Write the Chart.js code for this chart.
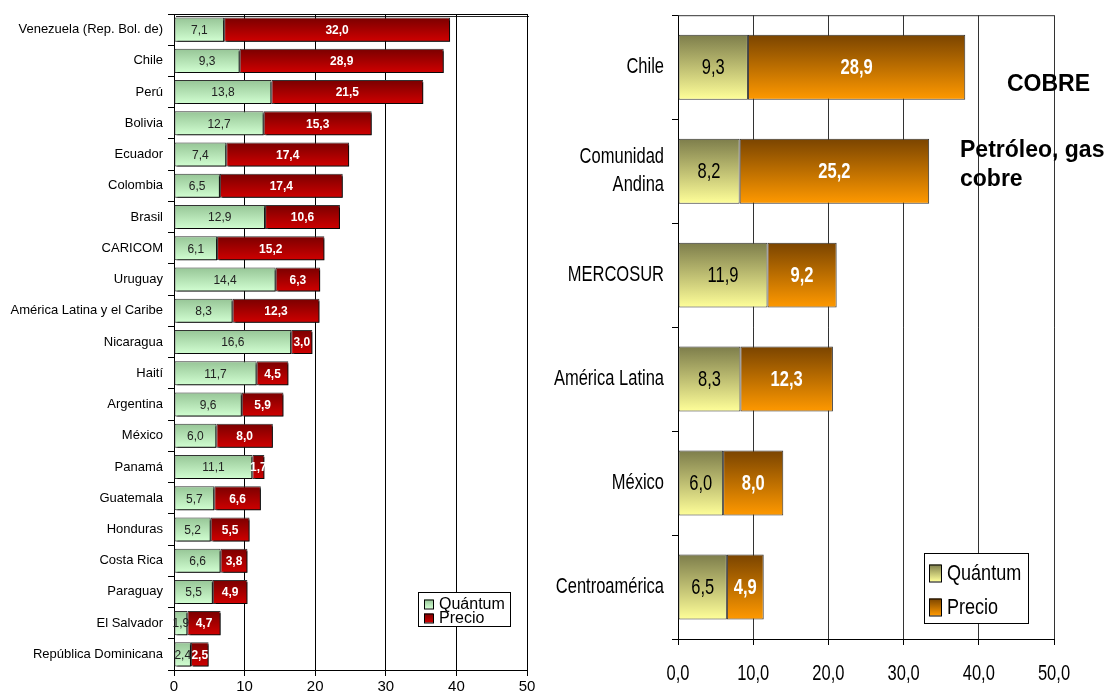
<!DOCTYPE html>
<html>
<head>
<meta charset="utf-8">
<script src="https://cdn.jsdelivr.net/npm/chart.js@4.4.1/dist/chart.umd.min.js"></script>
<style>
body { margin: 0; background: #fff; width: 1107px; height: 696px; overflow: hidden; position: relative; }
#wl { position: absolute; left: 0; top: 0; width: 550px; height: 696px; }
#wr { position: absolute; left: 550px; top: 0; width: 557px; height: 696px; }
</style>
</head>
<body>
<div id="wl"><canvas id="izq"></canvas></div>
<div id="wr"><canvas id="der"></canvas></div>
<script>
// datos
var paises = ["Venezuela (Rep. Bol. de)", "Chile", "Perú", "Bolivia", "Ecuador", "Colombia", "Brasil", "CARICOM",
  "Uruguay", "América Latina y el Caribe", "Nicaragua", "Haití", "Argentina", "México", "Panamá", "Guatemala",
  "Honduras", "Costa Rica", "Paraguay", "El Salvador", "República Dominicana"];
var quantumPaises = [7.1, 9.3, 13.8, 12.7, 7.4, 6.5, 12.9, 6.1, 14.4, 8.3, 16.6, 11.7, 9.6, 6.0, 11.1, 5.7, 5.2, 6.6, 5.5, 1.9, 2.4];
var precioPaises = [32.0, 28.9, 21.5, 15.3, 17.4, 17.4, 10.6, 15.2, 6.3, 12.3, 3.0, 4.5, 5.9, 8.0, 1.7, 6.6, 5.5, 3.8, 4.9, 4.7, 2.5];

var grupos = ["Chile", ["Comunidad", "Andina"], "MERCOSUR", "América Latina", "México", "Centroamérica"];
var quantumGrupos = [9.3, 8.2, 11.9, 8.3, 6.0, 6.5];
var precioGrupos = [28.9, 25.2, 9.2, 12.3, 8.0, 4.9];

var ticksX = [0, 10, 20, 30, 40, 50];

var arial = "'Liberation Sans', Arial, sans-serif";

function coma(v) { return v.toFixed(1).replace('.', ','); }

// texto estrechado en horizontal (imita Arial Narrow)
function texto(ctx, s, x, y, align, sx) {
  ctx.save();
  ctx.translate(x, y);
  ctx.scale(sx, 1);
  ctx.textAlign = align;
  ctx.textBaseline = 'middle';
  ctx.fillText(s, 0, 0);
  ctx.restore();
}

// degradado vertical por barra
function gradiente(arriba, abajo, frac) {
  return function(c) {
    var chart = c.chart;
    var y = chart.scales.y;
    if (!chart.chartArea || !y || c.dataIndex === undefined) return abajo;
    var n = chart.data.labels.length;
    var h = (y.bottom - y.top) / n * frac / 2;
    var m = y.getPixelForValue(c.dataIndex);
    var g = chart.ctx.createLinearGradient(0, m - h, 0, m + h);
    g.addColorStop(0, arriba);
    g.addColorStop(1, abajo);
    return g;
  };
}

var sombra = {
  id: 'sombra',
  beforeDatasetsDraw: function(chart, args, o) {
    if (!o.on) return;
    var ctx = chart.ctx;
    ctx.save();
    ctx.shadowColor = 'rgba(0,0,0,0.85)';
    ctx.shadowOffsetX = 2;
    ctx.shadowOffsetY = 2;
    ctx.shadowBlur = 0;
  },
  afterDatasetsDraw: function(chart, args, o) {
    if (o.on) chart.ctx.restore();
  }
};

var etiquetas = {
  id: 'etiquetas',
  afterDatasetsDraw: function(chart, args, o) {
    var ctx = chart.ctx;
    chart.data.datasets.forEach(function(ds, i) {
      chart.getDatasetMeta(i).data.forEach(function(bar, j) {
        var p = bar.getProps(['x', 'y', 'base'], true);
        ctx.save();
        ctx.font = o.fonts[i];
        ctx.fillStyle = o.colors[i];
        texto(ctx, coma(ds.data[j]), (p.x + p.base) / 2, p.y + 1, 'center', o.sx);
        ctx.restore();
      });
    });
  }
};

var marco = {
  id: 'marco',
  beforeDatasetsDraw: function(chart, args, o) {
    var a = chart.chartArea, ctx = chart.ctx;
    ctx.save();
    ctx.strokeStyle = o.color;
    ctx.lineWidth = 1;
    ctx.beginPath();
    ctx.moveTo(a.left, a.top + 0.5);
    ctx.lineTo(a.right, a.top + 0.5);
    ctx.stroke();
    ctx.restore();
  }
};

var leyenda = {
  id: 'leyenda',
  afterDraw: function(chart, args, o) {
    var ctx = chart.ctx;
    ctx.save();
    ctx.fillStyle = '#fff';
    ctx.fillRect(o.x, o.y, o.w, o.h);
    ctx.strokeStyle = '#000';
    ctx.lineWidth = 1;
    ctx.strokeRect(o.x + 0.5, o.y + 0.5, o.w, o.h);
    chart.data.datasets.forEach(function(ds, i) {
      var cy = o.y + o.first + i * o.step;
      var g = ctx.createLinearGradient(0, cy - o.sh / 2, 0, cy + o.sh / 2);
      g.addColorStop(0, o.swatch[i][0]);
      g.addColorStop(1, o.swatch[i][1]);
      ctx.fillStyle = g;
      ctx.fillRect(o.x + o.sx, cy - o.sh / 2, o.sw, o.sh);
      ctx.strokeStyle = '#000';
      ctx.strokeRect(o.x + o.sx + 0.5, cy - o.sh / 2 + 0.5, o.sw, o.sh);
      ctx.fillStyle = '#000';
      ctx.font = o.font;
      texto(ctx, ds.label, o.x + o.tx, cy + 1, 'left', o.scale);
    });
    ctx.restore();
  }
};

// rótulos de ejes dibujados a mano (solo gráfico derecho)
var rotulos = {
  id: 'rotulos',
  afterDraw: function(chart, args, o) {
    if (!o.on) return;
    var ctx = chart.ctx, a = chart.chartArea;
    var sy = chart.scales.y, sx = chart.scales.x;
    ctx.save();
    ctx.fillStyle = '#000';
    ctx.font = o.font;
    chart.data.labels.forEach(function(l, i) {
      var lines = Array.isArray(l) ? l : [l];
      var c = sy.getPixelForValue(i);
      lines.forEach(function(t, k) {
        var y = c + (k - (lines.length - 1) / 2) * o.lh;
        texto(ctx, t, a.left - o.ygap, y, 'right', o.scale);
      });
    });
    ticksX.forEach(function(v) {
      texto(ctx, coma(v), sx.getPixelForValue(v), o.xy, 'center', o.scale);
    });
    ctx.restore();
  }
};

var notas = {
  id: 'notas',
  afterDraw: function(chart, args, o) {
    var ctx = chart.ctx;
    ctx.save();
    ctx.fillStyle = '#000';
    ctx.font = o.font;
    ctx.textBaseline = 'middle';
    o.items.forEach(function(t) { ctx.fillText(t[0], t[1], t[2]); });
    ctx.restore();
  }
};

function opciones(cfg) {
  return {
    indexAxis: 'y',
    responsive: true,
    maintainAspectRatio: false,
    animation: false,
    layout: { padding: { top: cfg.top, right: cfg.right, left: 0, bottom: 0 } },
    plugins: {
      legend: { display: false },
      tooltip: { enabled: false },
      sombra: { on: cfg.sombra },
      etiquetas: cfg.etiquetas,
      marco: { color: cfg.grid },
      leyenda: cfg.leyenda,
      rotulos: cfg.rotulos || { on: false },
      notas: cfg.notas || { items: [], font: '12px sans-serif' }
    },
    scales: {
      x: {
        stacked: true,
        min: 0,
        max: 50,
        afterBuildTicks: function(s) { s.ticks = ticksX.map(function(v) { return { value: v }; }); },
        afterFit: function(s) { s.height = cfg.xh; },
        grid: { color: cfg.grid, lineWidth: 1, tickLength: 6, tickColor: '#000' },
        border: { color: '#000', width: 1 },
        ticks: {
          color: '#000',
          font: cfg.xfont,
          padding: cfg.xpad,
          maxRotation: 0,
          callback: cfg.xcb
        }
      },
      y: {
        stacked: true,
        afterFit: function(s) { s.width = cfg.yw; },
        grid: { drawOnChartArea: false, offset: true, tickLength: 6, color: '#000' },
        border: { color: '#000', width: 1 },
        ticks: { color: '#000', font: cfg.yfont, padding: cfg.ypad, autoSkip: false, callback: cfg.ycb }
      }
    }
  };
}

new Chart(document.getElementById('izq'), {
  type: 'bar',
  data: {
    labels: paises,
    datasets: [
      {
        label: 'Quántum',
        data: quantumPaises,
        backgroundColor: gradiente('#96c596', '#d2ffd2', 0.77),
        borderColor: '#333',
        borderWidth: 1,
        borderSkipped: false,
        barPercentage: 0.77,
        categoryPercentage: 1
      },
      {
        label: 'Precio',
        data: precioPaises,
        backgroundColor: gradiente('#7a0000', '#d00000', 0.77),
        borderColor: '#333',
        borderWidth: 1,
        borderSkipped: false,
        barPercentage: 0.77,
        categoryPercentage: 1
      }
    ]
  },
  options: opciones({
    top: 14, right: 23, xh: 26, yw: 174, grid: '#000', sombra: true,
    xfont: { family: arial, size: 15 }, xpad: 2,
    xcb: function(v) { return String(v); },
    yfont: { family: arial, size: 13 }, ypad: 5,
    ycb: function(v) { return paises[v]; },
    etiquetas: {
      fonts: ['12px ' + arial, 'bold 12px ' + arial],
      colors: ['#222', '#fff'],
      sx: 1
    },
    leyenda: {
      x: 418, y: 592, w: 92, h: 34, first: 12, step: 14, sx: 6, sw: 9, sh: 9, tx: 21,
      font: '16px ' + arial, scale: 1,
      swatch: [['#96c596', '#d2ffd2'], ['#7a0000', '#d00000']]
    }
  }),
  plugins: [sombra, marco, etiquetas, leyenda, rotulos, notas]
});

new Chart(document.getElementById('der'), {
  type: 'bar',
  data: {
    labels: grupos,
    datasets: [
      {
        label: 'Quántum',
        data: quantumGrupos,
        backgroundColor: gradiente('#7d7d4b', '#ffff99', 0.625),
        borderColor: '#333',
        borderWidth: 1,
        borderSkipped: false,
        barPercentage: 0.625,
        categoryPercentage: 1
      },
      {
        label: 'Precio',
        data: precioGrupos,
        backgroundColor: gradiente('#7a4400', '#ff9900', 0.625),
        borderColor: '#333',
        borderWidth: 1,
        borderSkipped: false,
        barPercentage: 0.625,
        categoryPercentage: 1
      }
    ]
  },
  options: opciones({
    top: 15, right: 53, xh: 57, yw: 128, grid: '#333', sombra: false,
    xfont: { family: arial, size: 17 }, xpad: 8,
    xcb: function() { return ''; },
    yfont: { family: arial, size: 12 }, ypad: 8,
    ycb: function() { return ''; },
    etiquetas: {
      fonts: ['22px ' + arial, 'bold 22px ' + arial],
      colors: ['#000', '#fff'],
      sx: 0.75
    },
    leyenda: {
      x: 374, y: 553, w: 104, h: 70, first: 20, step: 34, sx: 5, sw: 12, sh: 17, tx: 23,
      font: '22px ' + arial, scale: 0.82,
      swatch: [['#7d7d4b', '#ffff99'], ['#7a4400', '#ff9900']]
    },
    rotulos: { on: true, font: '22px ' + arial, scale: 0.75, lh: 28, ygap: 14, xy: 674 },
    notas: {
      font: 'bold 23px ' + arial,
      items: [['COBRE', 457, 85], ['Petróleo, gas', 410, 151], ['cobre', 410, 180]]
    }
  }),
  plugins: [sombra, marco, etiquetas, leyenda, rotulos, notas]
});
</script>
</body>
</html>
